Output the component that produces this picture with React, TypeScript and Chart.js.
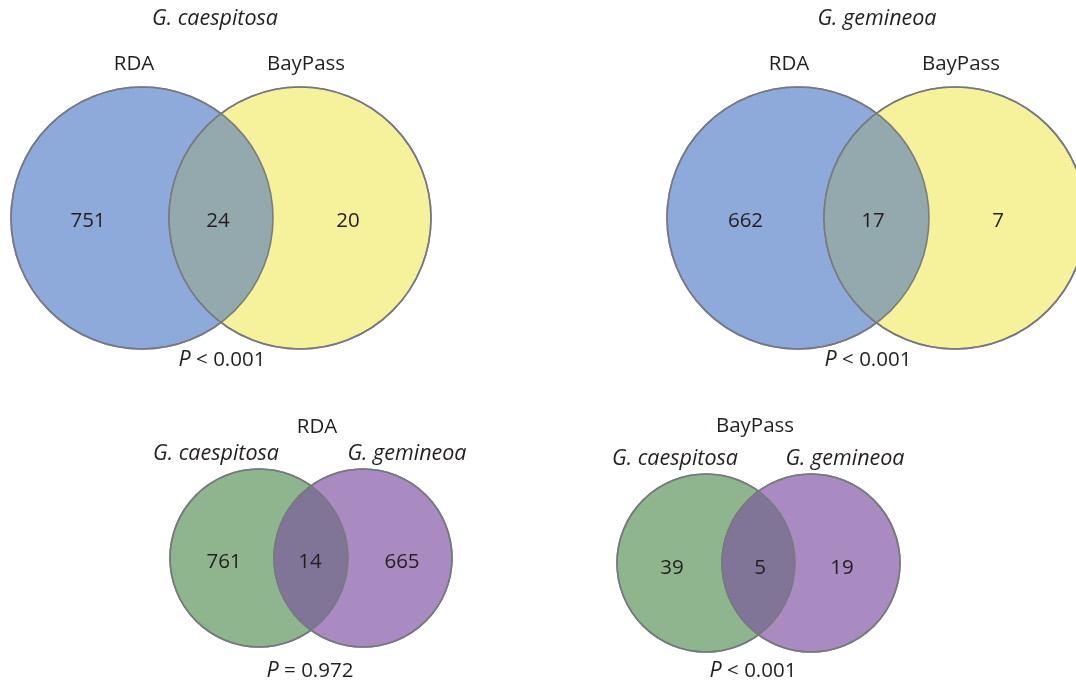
import { useEffect, useRef } from "react";
import { Chart, registerables } from "chart.js";

Chart.register(...registerables);

// ---- data ----
const panelTitles = ["G. caespitosa", "G. gemineoa", "RDA", "BayPass"];
const titleItalic = [true, true, false, false];
const leftSetNames = ["RDA", "RDA", "G. caespitosa", "G. caespitosa"];
const rightSetNames = ["BayPass", "BayPass", "G. gemineoa", "G. gemineoa"];
const setNamesItalic = [false, false, true, true];
const onlyLeft = [751, 662, 761, 39];
const shared = [24, 17, 14, 5];
const onlyRight = [20, 7, 665, 19];
const pRelations = ["<", "<", "=", "<"];
const pValues = ["0.001", "0.001", "0.972", "0.001"];

// ---- styling / layout (page pixels) ----
const FONT_FAMILY = '"Open Sans", "Noto Sans", sans-serif';
const FONT_SIZE = 20.5;
const ITALIC_FONT_SIZE = 21.5;
const TEXT_COLOR = "#231f20";
const BORDER_COLOR = "rgba(118,120,128,0.95)";

const palettes = [
  { left: "#8eaadb", right: "#f6f29b", both: "#93a9ae" },
  { left: "#8eaadb", right: "#f6f29b", both: "#93a9ae" },
  { left: "#8fb58e", right: "#a98bc1", both: "#807596" },
  { left: "#8fb58e", right: "#a98bc1", both: "#807596" },
];

type Layout = {
  box: [number, number, number, number]; // left, top, width, height
  mid: [number, number]; // centre between the two circles
  half: number; // half the distance between circle centres
  r: number; // circle radius
  titleX: number;
  titleY: number;
  labelX: [number, number];
  labelY: number;
  countDx: [number, number, number];
  countY: number;
  pX: number;
  pY: number;
};

const layouts: Layout[] = [
  {
    box: [0, 0, 460, 384],
    mid: [221, 218],
    half: 79,
    r: 131,
    titleX: 215,
    titleY: 25,
    labelX: [134, 306],
    labelY: 70,
    countDx: [-2, -3, -4],
    countY: 227,
    pX: 222,
    pY: 366,
  },
  {
    box: [616, 0, 460, 384],
    mid: [876.5, 218],
    half: 78.5,
    r: 131,
    titleX: 877,
    titleY: 25,
    labelX: [789, 961],
    labelY: 70,
    countDx: [0, -3.5, -9.5],
    countY: 227,
    pX: 868,
    pY: 366,
  },
  {
    box: [130, 400, 360, 284],
    mid: [311, 558],
    half: 52,
    r: 89,
    titleX: 317,
    titleY: 433,
    labelX: [216, 407],
    labelY: 460,
    countDx: [2, -1, 2],
    countY: 568,
    pX: 310,
    pY: 677,
  },
  {
    box: [570, 400, 360, 284],
    mid: [758.5, 563],
    half: 52.5,
    r: 89,
    titleX: 755,
    titleY: 432,
    labelX: [675, 845],
    labelY: 465,
    countDx: [2.5, 1.5, -5.5],
    countY: 574,
    pX: 753,
    pY: 677,
  },
];

function font(italic: boolean) {
  return italic
    ? `italic ${ITALIC_FONT_SIZE}px ${FONT_FAMILY}`
    : `${FONT_SIZE}px ${FONT_FAMILY}`;
}

function VennPanel({ index }: { index: number }) {
  const ref = useRef<HTMLCanvasElement | null>(null);
  const L = layouts[index];
  const [bl, bt, bw, bh] = L.box;

  useEffect(() => {
    const canvas = ref.current;
    if (!canvas) return;
    const pal = palettes[index];
    const cxLocal = L.mid[0] - bl;
    const cyLocal = L.mid[1] - bt;

    const vennPlugin = {
      id: "vennOverlay",
      afterDatasetsDraw(chart: any) {
        const ctx = chart.ctx as CanvasRenderingContext2D;
        const pts = chart.getDatasetMeta(0).data as any[];
        const [a, b] = pts;
        const ra = a.options.radius;
        const rb = b.options.radius;
        // shared region
        ctx.save();
        ctx.beginPath();
        ctx.arc(a.x, a.y, ra, 0, Math.PI * 2);
        ctx.clip();
        ctx.beginPath();
        ctx.arc(b.x, b.y, rb, 0, Math.PI * 2);
        ctx.fillStyle = pal.both;
        ctx.fill();
        ctx.restore();
        // both outlines on top
        ctx.save();
        ctx.strokeStyle = BORDER_COLOR;
        ctx.lineWidth = 1.6;
        for (const p of pts) {
          ctx.beginPath();
          ctx.arc(p.x, p.y, p.options.radius, 0, Math.PI * 2);
          ctx.stroke();
        }
        ctx.restore();
      },
      afterDraw(chart: any) {
        const ctx = chart.ctx as CanvasRenderingContext2D;
        const pts = chart.getDatasetMeta(0).data as any[];
        const [a, b] = pts;
        const r = a.options.radius;
        ctx.save();
        ctx.fillStyle = TEXT_COLOR;
        ctx.textAlign = "center";
        ctx.textBaseline = "alphabetic";

        // panel title
        ctx.font = font(titleItalic[index]);
        ctx.fillText(panelTitles[index], L.titleX - bl, L.titleY - bt);

        // set names
        ctx.font = font(setNamesItalic[index]);
        ctx.fillText(leftSetNames[index], L.labelX[0] - bl, L.labelY - bt);
        ctx.fillText(rightSetNames[index], L.labelX[1] - bl, L.labelY - bt);

        // region counts, centred within each region
        ctx.font = font(false);
        const yCount = L.countY - bt;
        const xLeft = (a.x - r + (b.x - r)) / 2;
        const xBoth = (a.x + b.x) / 2;
        const xRight = (a.x + r + (b.x + r)) / 2;
        ctx.fillText(String(onlyLeft[index]), xLeft + L.countDx[0], yCount);
        ctx.fillText(String(shared[index]), xBoth + L.countDx[1], yCount);
        ctx.fillText(String(onlyRight[index]), xRight + L.countDx[2], yCount);

        // P value: italic P followed by upright relation and value
        const rest = ` ${pRelations[index]} ${pValues[index]}`;
        ctx.font = font(true);
        const wP = ctx.measureText("P").width;
        ctx.font = font(false);
        const wRest = ctx.measureText(rest).width;
        const x0 = L.pX - bl - (wP + wRest) / 2;
        ctx.textAlign = "left";
        ctx.font = font(true);
        ctx.fillText("P", x0, L.pY - bt);
        ctx.font = font(false);
        ctx.fillText(rest, x0 + wP, L.pY - bt);
        ctx.restore();
      },
    };

    const chart = new Chart(canvas, {
      type: "bubble",
      data: {
        datasets: [
          {
            data: [
              { x: -1, y: 0, r: L.r },
              { x: 1, y: 0, r: L.r },
            ],
            backgroundColor: [pal.left, pal.right],
            borderColor: BORDER_COLOR,
            borderWidth: 1.6,
            clip: false as any,
          },
        ],
      },
      options: {
        animation: false,
        responsive: false,
        devicePixelRatio: 1,
        events: [],
        layout: { padding: 0, autoPadding: false } as any,
        plugins: {
          legend: { display: false },
          tooltip: { enabled: false },
          title: { display: false },
        },
        scales: {
          x: {
            type: "linear",
            display: false,
            min: -cxLocal / L.half,
            max: (bw - cxLocal) / L.half,
          },
          y: {
            type: "linear",
            display: false,
            min: -(bh - cyLocal) / L.half,
            max: cyLocal / L.half,
          },
        },
      },
      plugins: [vennPlugin],
    });
    return () => chart.destroy();
  }, [index]);

  return (
    <canvas
      ref={ref}
      width={bw}
      height={bh}
      style={{ position: "absolute", left: bl, top: bt, width: bw, height: bh }}
    />
  );
}

export default function App() {
  return (
    <div
      style={{
        position: "absolute",
        left: 0,
        top: 0,
        width: 1076,
        height: 684,
        background: "#ffffff",
        overflow: "hidden",
      }}
    >
      {layouts.map((_, i) => (
        <VennPanel key={i} index={i} />
      ))}
    </div>
  );
}
